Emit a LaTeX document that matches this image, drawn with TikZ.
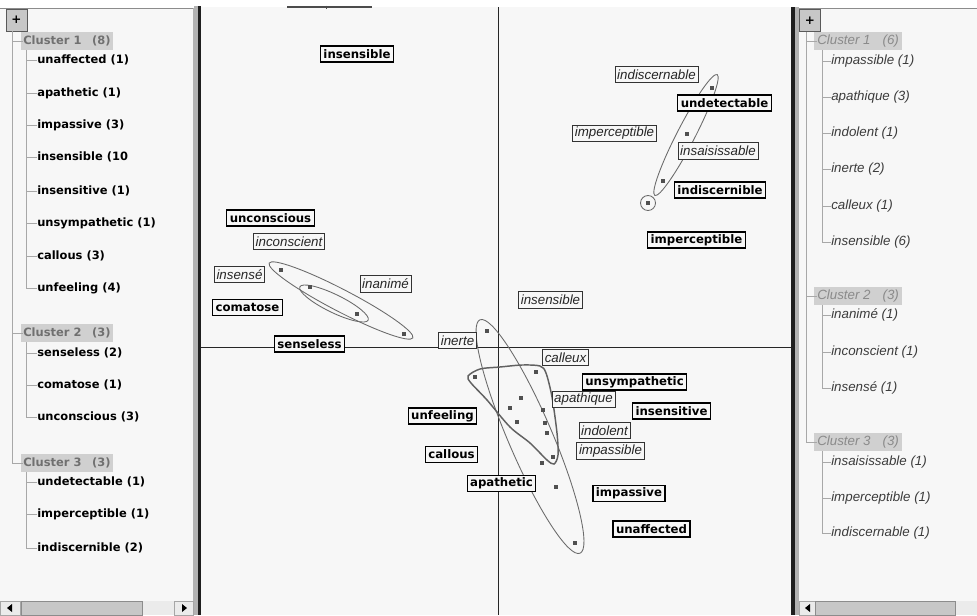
\documentclass[tikz,border=0pt]{standalone}
\usepackage{fontspec}
\newfontfamily\dvs{DejaVu Sans}
\newfontfamily\lib{Liberation Sans}
\definecolor{bg}{HTML}{F7F7F7}
\definecolor{hl}{HTML}{D0D0D0}
\definecolor{treeline}{HTML}{A8A8A8}
\definecolor{ellc}{HTML}{6A6A6A}
\definecolor{dotc}{HTML}{505050}
\definecolor{rtext}{HTML}{3C3C3C}
\definecolor{lhead}{HTML}{707070}
\definecolor{rhead}{HTML}{8A8A8A}
\begin{document}
\begin{tikzpicture}[x=0.75pt,y=-0.75pt,
  bbox/.style={draw=black, line width=0.9pt, fill=bg, font=\dvs\bfseries\fontsize{8.8}{10}\selectfont, inner xsep=2.2pt, inner ysep=0pt, minimum height=12pt},
  ibox/.style={draw=black!80, line width=0.6pt, fill=bg, text=black!85, font=\lib\itshape\fontsize{10}{12}\selectfont, inner xsep=1.6pt, inner ysep=0pt, minimum height=12.5pt},
  litem/.style={anchor=west, inner sep=0pt, font=\dvs\bfseries\fontsize{8.6}{10}\selectfont},
  lheadst/.style={anchor=west, inner sep=0pt, text=lhead, font=\dvs\bfseries\fontsize{8.6}{10}\selectfont},
  ritem/.style={anchor=west, inner sep=0pt, text=rtext, font=\lib\itshape\fontsize{10}{12}\selectfont},
  rheadst/.style={anchor=west, inner sep=0pt, text=rhead, font=\lib\itshape\fontsize{10}{12}\selectfont},
  tl/.style={draw=treeline, line width=0.6pt},
  ell/.style={draw=ellc, line width=0.65pt},
  btn/.style={draw=black!65, fill=black!22, line width=0.6pt, minimum width=15.75pt, minimum height=16.5pt, inner sep=0pt, font=\dvs\bfseries\fontsize{9}{9}\selectfont},
  sbar/.style={fill=black!8, draw=black!35, line width=0.5pt},
  thumb/.style={fill=black!22, draw=black!45, line width=0.5pt}
]
\useasboundingbox (0,0) rectangle (977,615);
\fill[white] (0,0) rectangle (977,615);
% panels
\fill[bg] (0,8) rectangle (193,615);
\fill[bg] (201,7) rectangle (791,615);
\fill[bg] (799,8) rectangle (977,615);
\draw[black!45, line width=0.6pt] (0,8) -- (193,8);
\draw[black!30, line width=0.6pt] (193,8) -- (193,615);
\draw[black!45, line width=0.6pt] (799,8) -- (977,8);
% separators
\fill[black!30] (194,6) rectangle (197.5,615);
\fill[black!88] (197.5,6) rectangle (201,615);
\fill[black!88] (791,7) rectangle (795,615);
\fill[black!30] (795,7) rectangle (799,615);
\draw[black!70, line width=1pt] (287,7) -- (372,7);
\draw[black!70, line width=0.6pt] (326,5.5) -- (326,9);

% ---------- left tree ----------
\node[btn] (lplus) at (16.5,20) {+};
\draw[tl] (12,31) -- (12,463);
\fill[hl] (21,32) rectangle (113,50);
\fill[hl] (21,324) rectangle (113,342);
\fill[hl] (21,454) rectangle (113,472);
\node[lheadst] (Lc1) at (23,41) {Cluster 1\hspace{8pt}(8)};
\node[lheadst] (Lc2) at (23,333) {Cluster 2\hspace{8pt}(3)};
\node[lheadst] (Lc3) at (23,463) {Cluster 3\hspace{8pt}(3)};
\draw[tl] (12,41) -- (Lc1.west);
\draw[tl] (12,333) -- (Lc2.west);
\draw[tl] (12,463) -- (Lc3.west);
\draw[tl] (26,50) -- (26,288);
\draw[tl] (26,342) -- (26,417);
\draw[tl] (26,472) -- (26,548);
\foreach \nm/\yy/\tx in {L11/60/unaffected (1), L12/93/apathetic (1), L13/125/impassive (3), L14/157/insensible (10, L15/191/insensitive (1), L16/223/unsympathetic (1), L17/256/callous (3), L18/288/unfeeling (4), L21/353/senseless (2), L22/385/comatose (1), L23/417/unconscious (3), L31/482/undetectable (1), L32/514/imperceptible (1), L33/548/indiscernible (2)}{
  \node[litem] (\nm) at (37,\yy) {\tx};
  \draw[tl] (\nm.west) -- ++(-11,0);
}

% ---------- right tree ----------
\node[btn] (rplus) at (810,20.5) {+};
\draw[tl] (806,32) -- (806,442);
\fill[hl] (814,32) rectangle (902,50);
\fill[hl] (814,287) rectangle (902,305);
\fill[hl] (814,433) rectangle (902,451);
\node[rheadst] (Rc1) at (817,41) {Cluster 1\hspace{9pt}(6)};
\node[rheadst] (Rc2) at (817,296) {Cluster 2\hspace{9pt}(3)};
\node[rheadst] (Rc3) at (817,442) {Cluster 3\hspace{9pt}(3)};
\draw[tl] (806,41) -- (Rc1.west);
\draw[tl] (806,296) -- (Rc2.west);
\draw[tl] (806,442) -- (Rc3.west);
\draw[tl] (822,50) -- (822,242);
\draw[tl] (822,305) -- (822,388);
\draw[tl] (822,451) -- (822,533);
\foreach \nm/\yy/\tx in {R11/61/impassible (1), R12/97/apathique (3), R13/133/indolent (1), R14/169/inerte (2), R15/206/calleux (1), R16/242/insensible (6), R21/315/inanimé (1), R22/352/inconscient (1), R23/388/insensé (1), R31/462/insaisissable (1), R32/498/imperceptible (1), R33/533/indiscernable (1)}{
  \node[ritem] (\nm) at (831,\yy) {\tx};
  \draw[tl] (\nm.west) -- ++(-9,0);
}

% ---------- scrollbars ----------
\fill[black!8] (0,601) rectangle (193,615);
\draw[sbar] (0,601) rectangle (20,615);
\fill[black] (7,608) -- (12,604) -- (12,612) -- cycle;
\draw[thumb] (21,601) rectangle (142,615);
\draw[sbar] (174,601) rectangle (193,615);
\fill[black] (187,608) -- (182,604) -- (182,612) -- cycle;
\fill[black!8] (799,601) rectangle (977,615);
\draw[sbar] (799,601) rectangle (815,615);
\fill[black] (805,608) -- (810,604) -- (810,612) -- cycle;
\draw[thumb] (815,601) rectangle (955,615);

% ---------- axes ----------
\draw[black!85, line width=0.7pt] (498,7) -- (498,615);
\draw[black!85, line width=0.7pt] (201,347) -- (791,347);

% ---------- cluster shapes ----------
\draw[ell, rotate around={62.7:(686,135)}] (686,135) ellipse [x radius=68, y radius=9];
\draw[ell] (648,203) circle [radius=7.5];
\draw[ell, rotate around={-27.5:(341,300.5)}] (341,300.5) ellipse [x radius=81, y radius=11];
\draw[ell, rotate around={-26:(334,303.5)}] (334,303.5) ellipse [x radius=38, y radius=9];
\draw[ell, rotate around={-66.8:(530,436.5)}] (530,436.5) ellipse [x radius=127, y radius=22];
\draw[draw=black!62, line width=1.1pt] plot[smooth cycle, tension=0.5] coordinates {(468,376) (480,369) (500,367) (522,365) (540,366) (546,373) (552,397) (557,433) (558,455) (554,464) (547,460) (530,443) (510,427) (487,400) (471,383)};

% ---------- points ----------
\foreach \px/\py in {712/88, 687/134, 663/181, 648/203, 281/270, 310/287, 357/314, 404/334, 487/331, 475/377, 536/372, 521/398, 510/408, 543/410, 517/422, 545/423, 547/433, 553/457, 542/463, 556/487, 575/543}{
  \fill[dotc] (\px-1.7,\py-1.7) rectangle (\px+1.7,\py+1.7);
}

% ---------- bold labels ----------
\node[bbox] (insensibleB) at (357,54) {insensible};
\node[bbox] (undetectable) at (724.5,103) {undetectable};
\node[bbox] (indiscernible) at (720,190) {indiscernible};
\node[bbox] (imperceptibleB) at (696.5,240) {imperceptible};
\node[bbox] (unconscious) at (270.5,218) {unconscious};
\node[bbox] (comatose) at (247.5,307.5) {comatose};
\node[bbox] (senseless) at (309.5,344) {senseless};
\node[bbox] (unsympathetic) at (634.5,382) {unsympathetic};
\node[bbox] (insensitive) at (671.5,411) {insensitive};
\node[bbox] (unfeeling) at (442.5,416) {unfeeling};
\node[bbox] (callous) at (451.5,454.5) {callous};
\node[bbox] (apathetic) at (501.5,483.5) {apathetic};
\node[bbox] (impassive) at (629,493.5) {impassive};
\node[bbox] (unaffected) at (651.5,529) {unaffected};

% ---------- italic labels ----------
\node[ibox] (indiscernable) at (656.5,74.5) {indiscernable};
\node[ibox] (imperceptibleI) at (614.5,133.5) {imperceptible};
\node[ibox] (insaisissable) at (718,151) {insaisissable};
\node[ibox] (inconscient) at (289,241.5) {inconscient};
\node[ibox] (insense) at (239.5,274.5) {insensé};
\node[ibox] (inanime) at (385.5,284) {inanimé};
\node[ibox] (inerte) at (457.5,340.5) {inerte};
\node[ibox] (insensibleI) at (550.5,300) {insensible};
\node[ibox] (calleux) at (565.5,357.5) {calleux};
\node[ibox] (apathique) at (583.5,399.5) {apathique};
\node[ibox] (indolent) at (604.5,430.5) {indolent};
\node[ibox] (impassibleI) at (610.5,451) {impassible};
\end{tikzpicture}
\end{document}
